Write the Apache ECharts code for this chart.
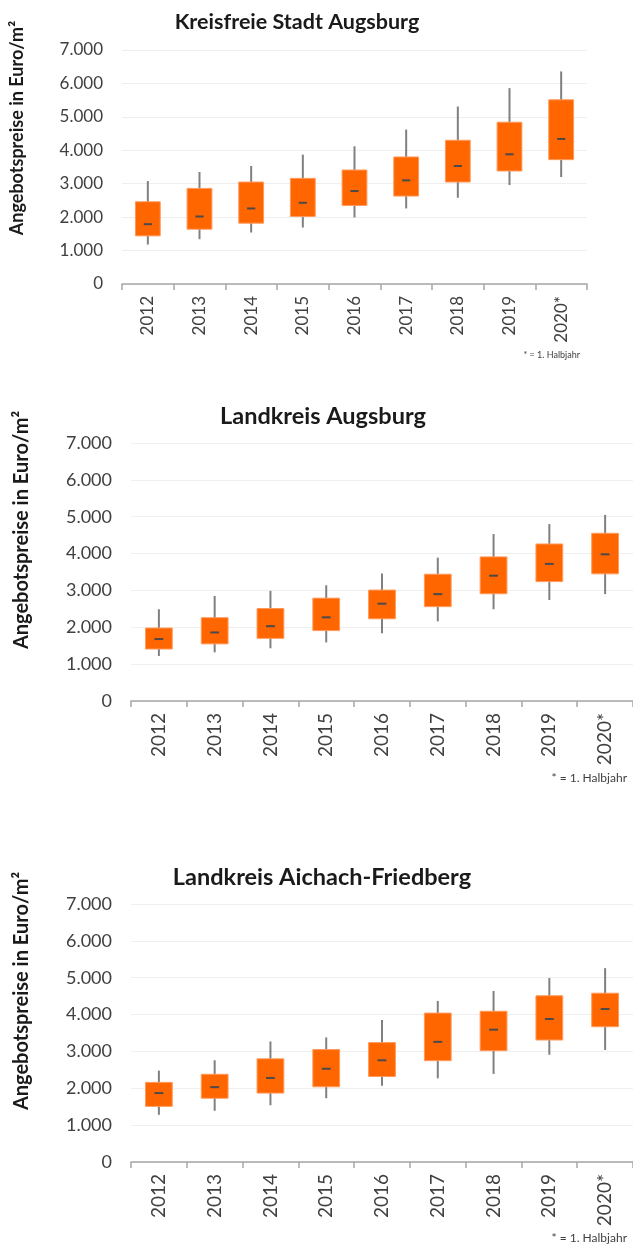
<!DOCTYPE html>
<html><head><meta charset="utf-8">
<script src="https://cdn.jsdelivr.net/npm/echarts@6/dist/echarts.min.js"></script>
<style>html,body{margin:0;padding:0;background:#fff}#c{width:633px;height:1245px}</style>
</head><body><div id="c"></div>
<script>
const categories = ['2012','2013','2014','2015','2016','2017','2018','2019','2020*'];
const yTicks = [0,1000,2000,3000,4000,5000,6000,7000];

// Kreisfreie Stadt Augsburg
const stadtLow    = [1180,1340,1540,1690,1990,2260,2580,2960,3200];
const stadtQ1     = [1440,1640,1820,2020,2350,2630,3050,3380,3720];
const stadtMedian = [1790,2020,2260,2430,2780,3100,3530,3880,4340];
const stadtQ3     = [2460,2860,3050,3160,3410,3800,4300,4840,5510];
const stadtHigh   = [3080,3350,3530,3870,4120,4620,5310,5860,6360];

// Landkreis Augsburg
const lkaLow    = [1220,1320,1430,1590,1840,2160,2490,2740,2900];
const lkaQ1     = [1410,1550,1700,1910,2230,2560,2910,3240,3450];
const lkaMedian = [1680,1860,2030,2270,2640,2900,3400,3720,3980];
const lkaQ3     = [1980,2260,2510,2790,3010,3440,3910,4260,4550];
const lkaHigh   = [2490,2850,2990,3140,3460,3890,4530,4800,5050];

// Landkreis Aichach-Friedberg
const aicLow    = [1280,1390,1540,1730,2070,2270,2390,2910,3040];
const aicQ1     = [1510,1730,1870,2040,2320,2750,3020,3310,3670];
const aicMedian = [1870,2030,2280,2530,2760,3260,3590,3880,4150];
const aicQ3     = [2160,2380,2800,3050,3240,4040,4090,4510,4580];
const aicHigh   = [2480,2760,3270,3380,3850,4370,4640,4990,5260];

const FONT = 'Lato, "Noto Sans", sans-serif';
function build(low,q1,med,q3,high){
  return categories.map((c,i)=>[i,low[i],q1[i],med[i],q3[i],high[i]]);
}
function fmt(v){ return v===0 ? '0' : (v/1000).toFixed(0)+'.000'; }

function renderItem(params, api){
  const x = api.value(0);
  const pLow = api.coord([x, api.value(1)]);
  const pQ1 = api.coord([x, api.value(2)]);
  const pMed = api.coord([x, api.value(3)]);
  const pQ3 = api.coord([x, api.value(4)]);
  const pHigh = api.coord([x, api.value(5)]);
  const band = api.size([1,0])[0];
  const w = band*0.48;
  const cx = pMed[0];
  const mw = w*0.33;
  return {type:'group', children:[
    {type:'line', shape:{x1:cx,y1:pLow[1],x2:cx,y2:pHigh[1]}, style:{stroke:'#808080',lineWidth:2}},
    {type:'rect', shape:{x:cx-w/2,y:pQ3[1],width:w,height:pQ1[1]-pQ3[1]}, style:{fill:'#FF6600',stroke:'#FF9A5C',lineWidth:1}},
    {type:'line', shape:{x1:cx-mw/2,y1:pMed[1],x2:cx+mw/2,y2:pMed[1]}, style:{stroke:'#4a4a4a',lineWidth:2}}
  ]};
}

const grids = [
  {left:122, top:50, width:465, height:234},
  {left:131, top:443, width:504, height:258},
  {left:131, top:904, width:504, height:258}
];
const ySize = [17,18,18];
const xSize = [17,19,19];

const xAxes = grids.map((g,i)=>({
  type:'category', gridIndex:i, data:categories,
  axisLine:{lineStyle:{color:'#a6a6a6',width:1.5}},
  axisTick:{show:true,length:6,lineStyle:{color:'#a6a6a6',width:1.5}},
  axisLabel:{rotate:90, margin:12, color:'#404040', fontFamily:FONT, fontSize:xSize[i], interval:0}
}));
const yAxes = grids.map((g,i)=>({
  type:'value', gridIndex:i, min:0, max:7000, interval:1000,
  axisLine:{show:false}, axisTick:{show:false},
  splitLine:{lineStyle:{color:'#efefef',width:1}},
  axisLabel:{margin:19, color:'#404040', fontFamily:FONT, fontSize:ySize[i], formatter:fmt}
}));

const datasets = [
  build(stadtLow,stadtQ1,stadtMedian,stadtQ3,stadtHigh),
  build(lkaLow,lkaQ1,lkaMedian,lkaQ3,lkaHigh),
  build(aicLow,aicQ1,aicMedian,aicQ3,aicHigh)
];
const series = datasets.map((d,i)=>({
  type:'custom', xAxisIndex:i, yAxisIndex:i, renderItem:renderItem,
  encode:{x:0, y:[1,2,3,4,5]}, data:d, silent:true
}));

const titles = [
  {text:'Kreisfreie Stadt Augsburg', x:297, y:22, size:21.5},
  {text:'Landkreis Augsburg', x:323, y:416, size:23.5},
  {text:'Landkreis Aichach-Friedberg', x:322, y:877, size:23.5}
];
const yNames = [
  {x:17, y:128, size:18},
  {x:22, y:530, size:20},
  {x:22, y:991, size:20}
];
const notes = [
  {x:580, y:355, size:9},
  {x:627, y:778, size:12},
  {x:627, y:1238, size:12}
];
const graphic = [];
titles.forEach(t=>graphic.push({type:'text', x:t.x, y:t.y, style:{text:t.text, font:'bold '+t.size+'px '+FONT, fill:'#1a1a1a', textAlign:'center', textVerticalAlign:'middle'}}));
yNames.forEach(t=>graphic.push({type:'text', x:t.x, y:t.y, rotation:Math.PI/2, style:{text:'Angebotspreise in Euro/m²', font:'bold '+t.size+'px '+FONT, fill:'#1a1a1a', textAlign:'center', textVerticalAlign:'middle'}}));
notes.forEach(t=>graphic.push({type:'text', x:t.x, y:t.y, style:{text:'* = 1. Halbjahr', font:t.size+'px '+FONT, fill:'#404040', textAlign:'right', textVerticalAlign:'middle'}}));

const chart = echarts.init(document.getElementById('c'), null, {renderer:'canvas'});
chart.setOption({
  animation:false,
  grid:grids, xAxis:xAxes, yAxis:yAxes, series:series, graphic:graphic
});
</script></body></html>
